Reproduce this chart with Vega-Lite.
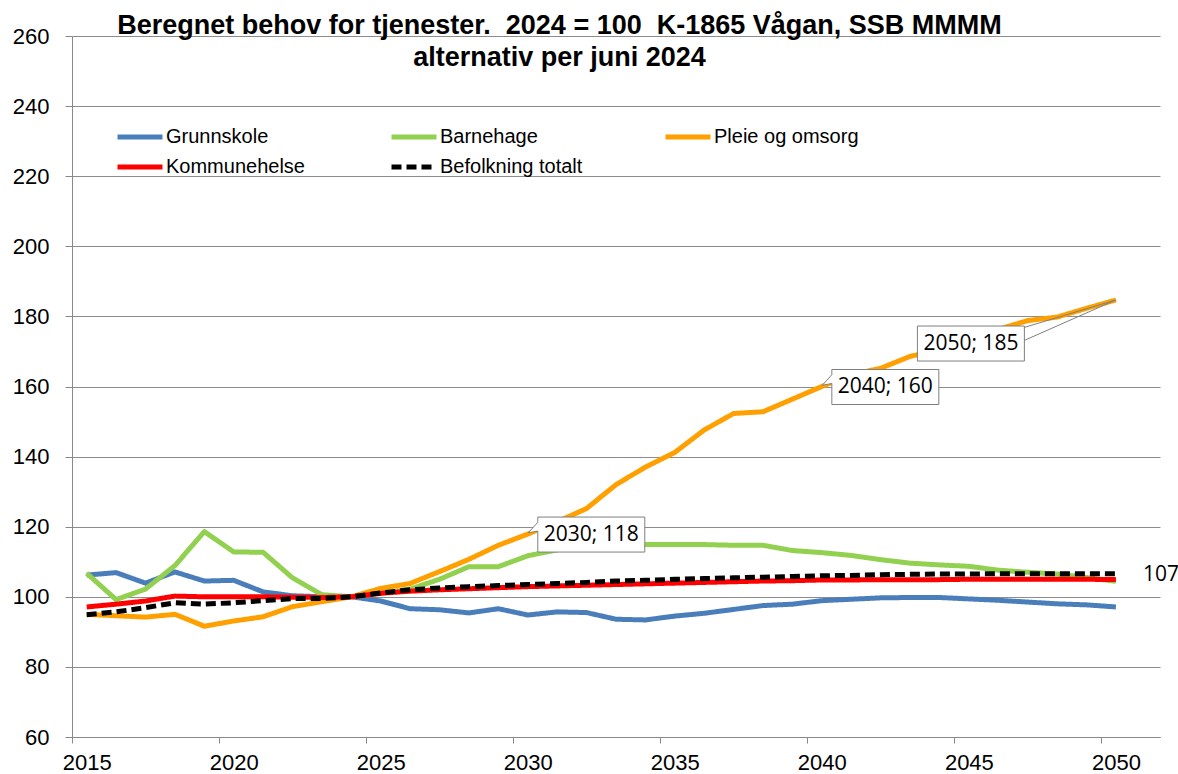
{
  "$schema": "https://vega.github.io/schema/vega-lite/v6.json",
  "width": 1088,
  "height": 701,
  "autosize": "none",
  "padding": {"left": 72, "top": 36, "right": 18, "bottom": 37},
  "background": "white",
  "config": {"view": {"stroke": null}},
  "title": {
    "text": ["Beregnet behov for tjenester.\u00a0 2024 = 100\u00a0 K-1865 Vågan, SSB MMMM", "alternativ per juni 2024"],
    "anchor": "middle",
    "frame": "group",
    "dx": -56.5,
    "dy": 36,
    "offset": -32,
    "baseline": "alphabetic",
    "fontSize": 27,
    "font": "Liberation Sans",
    "fontWeight": "bold",
    "color": "#000000",
    "lineHeight": 32
  },
  "datasets": {
    "series": [
      {"series": "Grunnskole", "year": 2015, "value": 106.2},
      {"series": "Grunnskole", "year": 2016, "value": 106.9},
      {"series": "Grunnskole", "year": 2017, "value": 103.9},
      {"series": "Grunnskole", "year": 2018, "value": 107.1},
      {"series": "Grunnskole", "year": 2019, "value": 104.5},
      {"series": "Grunnskole", "year": 2020, "value": 104.7},
      {"series": "Grunnskole", "year": 2021, "value": 101.4},
      {"series": "Grunnskole", "year": 2022, "value": 100.3},
      {"series": "Grunnskole", "year": 2023, "value": 100.0},
      {"series": "Grunnskole", "year": 2024, "value": 100.0},
      {"series": "Grunnskole", "year": 2025, "value": 98.8},
      {"series": "Grunnskole", "year": 2026, "value": 96.6},
      {"series": "Grunnskole", "year": 2027, "value": 96.3},
      {"series": "Grunnskole", "year": 2028, "value": 95.4},
      {"series": "Grunnskole", "year": 2029, "value": 96.6},
      {"series": "Grunnskole", "year": 2030, "value": 94.8},
      {"series": "Grunnskole", "year": 2031, "value": 95.7},
      {"series": "Grunnskole", "year": 2032, "value": 95.5},
      {"series": "Grunnskole", "year": 2033, "value": 93.6},
      {"series": "Grunnskole", "year": 2034, "value": 93.4},
      {"series": "Grunnskole", "year": 2035, "value": 94.5},
      {"series": "Grunnskole", "year": 2036, "value": 95.3},
      {"series": "Grunnskole", "year": 2037, "value": 96.4},
      {"series": "Grunnskole", "year": 2038, "value": 97.5},
      {"series": "Grunnskole", "year": 2039, "value": 97.9},
      {"series": "Grunnskole", "year": 2040, "value": 98.9},
      {"series": "Grunnskole", "year": 2041, "value": 99.3},
      {"series": "Grunnskole", "year": 2042, "value": 99.7},
      {"series": "Grunnskole", "year": 2043, "value": 99.8},
      {"series": "Grunnskole", "year": 2044, "value": 99.8},
      {"series": "Grunnskole", "year": 2045, "value": 99.4},
      {"series": "Grunnskole", "year": 2046, "value": 99.0},
      {"series": "Grunnskole", "year": 2047, "value": 98.5},
      {"series": "Grunnskole", "year": 2048, "value": 98.0},
      {"series": "Grunnskole", "year": 2049, "value": 97.7},
      {"series": "Grunnskole", "year": 2050, "value": 97.1},
      {"series": "Barnehage", "year": 2015, "value": 106.7},
      {"series": "Barnehage", "year": 2016, "value": 99.2},
      {"series": "Barnehage", "year": 2017, "value": 102.2},
      {"series": "Barnehage", "year": 2018, "value": 108.9},
      {"series": "Barnehage", "year": 2019, "value": 118.6},
      {"series": "Barnehage", "year": 2020, "value": 112.8},
      {"series": "Barnehage", "year": 2021, "value": 112.7},
      {"series": "Barnehage", "year": 2022, "value": 105.4},
      {"series": "Barnehage", "year": 2023, "value": 100.6},
      {"series": "Barnehage", "year": 2024, "value": 100.0},
      {"series": "Barnehage", "year": 2025, "value": 101.0},
      {"series": "Barnehage", "year": 2026, "value": 102.2},
      {"series": "Barnehage", "year": 2027, "value": 105.0},
      {"series": "Barnehage", "year": 2028, "value": 108.6},
      {"series": "Barnehage", "year": 2029, "value": 108.6},
      {"series": "Barnehage", "year": 2030, "value": 111.7},
      {"series": "Barnehage", "year": 2031, "value": 113.4},
      {"series": "Barnehage", "year": 2032, "value": 114.8},
      {"series": "Barnehage", "year": 2033, "value": 114.9},
      {"series": "Barnehage", "year": 2034, "value": 114.9},
      {"series": "Barnehage", "year": 2035, "value": 114.9},
      {"series": "Barnehage", "year": 2036, "value": 114.9},
      {"series": "Barnehage", "year": 2037, "value": 114.7},
      {"series": "Barnehage", "year": 2038, "value": 114.7},
      {"series": "Barnehage", "year": 2039, "value": 113.2},
      {"series": "Barnehage", "year": 2040, "value": 112.6},
      {"series": "Barnehage", "year": 2041, "value": 111.8},
      {"series": "Barnehage", "year": 2042, "value": 110.6},
      {"series": "Barnehage", "year": 2043, "value": 109.6},
      {"series": "Barnehage", "year": 2044, "value": 109.1},
      {"series": "Barnehage", "year": 2045, "value": 108.7},
      {"series": "Barnehage", "year": 2046, "value": 107.6},
      {"series": "Barnehage", "year": 2047, "value": 107.0},
      {"series": "Barnehage", "year": 2048, "value": 106.5},
      {"series": "Barnehage", "year": 2049, "value": 105.5},
      {"series": "Barnehage", "year": 2050, "value": 104.4},
      {"series": "Pleie og omsorg", "year": 2015, "value": 95.0},
      {"series": "Pleie og omsorg", "year": 2016, "value": 94.6},
      {"series": "Pleie og omsorg", "year": 2017, "value": 94.2},
      {"series": "Pleie og omsorg", "year": 2018, "value": 95.0},
      {"series": "Pleie og omsorg", "year": 2019, "value": 91.6},
      {"series": "Pleie og omsorg", "year": 2020, "value": 93.1},
      {"series": "Pleie og omsorg", "year": 2021, "value": 94.3},
      {"series": "Pleie og omsorg", "year": 2022, "value": 97.2},
      {"series": "Pleie og omsorg", "year": 2023, "value": 98.6},
      {"series": "Pleie og omsorg", "year": 2024, "value": 100.0},
      {"series": "Pleie og omsorg", "year": 2025, "value": 102.4},
      {"series": "Pleie og omsorg", "year": 2026, "value": 103.8},
      {"series": "Pleie og omsorg", "year": 2027, "value": 107.2},
      {"series": "Pleie og omsorg", "year": 2028, "value": 110.7},
      {"series": "Pleie og omsorg", "year": 2029, "value": 114.7},
      {"series": "Pleie og omsorg", "year": 2030, "value": 117.9},
      {"series": "Pleie og omsorg", "year": 2031, "value": 121.4},
      {"series": "Pleie og omsorg", "year": 2032, "value": 125.2},
      {"series": "Pleie og omsorg", "year": 2033, "value": 132.0},
      {"series": "Pleie og omsorg", "year": 2034, "value": 137.0},
      {"series": "Pleie og omsorg", "year": 2035, "value": 141.2},
      {"series": "Pleie og omsorg", "year": 2036, "value": 147.6},
      {"series": "Pleie og omsorg", "year": 2037, "value": 152.3},
      {"series": "Pleie og omsorg", "year": 2038, "value": 152.8},
      {"series": "Pleie og omsorg", "year": 2039, "value": 156.4},
      {"series": "Pleie og omsorg", "year": 2040, "value": 160.0},
      {"series": "Pleie og omsorg", "year": 2041, "value": 163.4},
      {"series": "Pleie og omsorg", "year": 2042, "value": 165.2},
      {"series": "Pleie og omsorg", "year": 2043, "value": 168.6},
      {"series": "Pleie og omsorg", "year": 2044, "value": 170.4},
      {"series": "Pleie og omsorg", "year": 2045, "value": 173.6},
      {"series": "Pleie og omsorg", "year": 2046, "value": 176.3},
      {"series": "Pleie og omsorg", "year": 2047, "value": 178.8},
      {"series": "Pleie og omsorg", "year": 2048, "value": 179.8},
      {"series": "Pleie og omsorg", "year": 2049, "value": 182.3},
      {"series": "Pleie og omsorg", "year": 2050, "value": 184.7},
      {"series": "Kommunehelse", "year": 2015, "value": 97.1},
      {"series": "Kommunehelse", "year": 2016, "value": 97.9},
      {"series": "Kommunehelse", "year": 2017, "value": 98.8},
      {"series": "Kommunehelse", "year": 2018, "value": 100.2},
      {"series": "Kommunehelse", "year": 2019, "value": 100.0},
      {"series": "Kommunehelse", "year": 2020, "value": 100.0},
      {"series": "Kommunehelse", "year": 2021, "value": 100.0},
      {"series": "Kommunehelse", "year": 2022, "value": 99.9},
      {"series": "Kommunehelse", "year": 2023, "value": 99.8},
      {"series": "Kommunehelse", "year": 2024, "value": 100.0},
      {"series": "Kommunehelse", "year": 2025, "value": 101.0},
      {"series": "Kommunehelse", "year": 2026, "value": 101.6},
      {"series": "Kommunehelse", "year": 2027, "value": 102.0},
      {"series": "Kommunehelse", "year": 2028, "value": 102.3},
      {"series": "Kommunehelse", "year": 2029, "value": 102.6},
      {"series": "Kommunehelse", "year": 2030, "value": 102.9},
      {"series": "Kommunehelse", "year": 2031, "value": 103.1},
      {"series": "Kommunehelse", "year": 2032, "value": 103.3},
      {"series": "Kommunehelse", "year": 2033, "value": 103.5},
      {"series": "Kommunehelse", "year": 2034, "value": 103.7},
      {"series": "Kommunehelse", "year": 2035, "value": 103.9},
      {"series": "Kommunehelse", "year": 2036, "value": 104.1},
      {"series": "Kommunehelse", "year": 2037, "value": 104.3},
      {"series": "Kommunehelse", "year": 2038, "value": 104.5},
      {"series": "Kommunehelse", "year": 2039, "value": 104.6},
      {"series": "Kommunehelse", "year": 2040, "value": 104.8},
      {"series": "Kommunehelse", "year": 2041, "value": 104.8},
      {"series": "Kommunehelse", "year": 2042, "value": 104.9},
      {"series": "Kommunehelse", "year": 2043, "value": 104.9},
      {"series": "Kommunehelse", "year": 2044, "value": 104.9},
      {"series": "Kommunehelse", "year": 2045, "value": 105.0},
      {"series": "Kommunehelse", "year": 2046, "value": 105.0},
      {"series": "Kommunehelse", "year": 2047, "value": 105.0},
      {"series": "Kommunehelse", "year": 2048, "value": 105.0},
      {"series": "Kommunehelse", "year": 2049, "value": 105.0},
      {"series": "Kommunehelse", "year": 2050, "value": 104.9},
      {"series": "Befolkning totalt", "year": 2015, "value": 94.9},
      {"series": "Befolkning totalt", "year": 2016, "value": 95.7},
      {"series": "Befolkning totalt", "year": 2017, "value": 96.9},
      {"series": "Befolkning totalt", "year": 2018, "value": 98.3},
      {"series": "Befolkning totalt", "year": 2019, "value": 97.9},
      {"series": "Befolkning totalt", "year": 2020, "value": 98.3},
      {"series": "Befolkning totalt", "year": 2021, "value": 98.9},
      {"series": "Befolkning totalt", "year": 2022, "value": 99.5},
      {"series": "Befolkning totalt", "year": 2023, "value": 99.5},
      {"series": "Befolkning totalt", "year": 2024, "value": 100.0},
      {"series": "Befolkning totalt", "year": 2025, "value": 101.1},
      {"series": "Befolkning totalt", "year": 2026, "value": 102.0},
      {"series": "Befolkning totalt", "year": 2027, "value": 102.5},
      {"series": "Befolkning totalt", "year": 2028, "value": 102.9},
      {"series": "Befolkning totalt", "year": 2029, "value": 103.2},
      {"series": "Befolkning totalt", "year": 2030, "value": 103.5},
      {"series": "Befolkning totalt", "year": 2031, "value": 103.8},
      {"series": "Befolkning totalt", "year": 2032, "value": 104.1},
      {"series": "Befolkning totalt", "year": 2033, "value": 104.5},
      {"series": "Befolkning totalt", "year": 2034, "value": 104.7},
      {"series": "Befolkning totalt", "year": 2035, "value": 105.0},
      {"series": "Befolkning totalt", "year": 2036, "value": 105.2},
      {"series": "Befolkning totalt", "year": 2037, "value": 105.4},
      {"series": "Befolkning totalt", "year": 2038, "value": 105.6},
      {"series": "Befolkning totalt", "year": 2039, "value": 105.8},
      {"series": "Befolkning totalt", "year": 2040, "value": 106.0},
      {"series": "Befolkning totalt", "year": 2041, "value": 106.1},
      {"series": "Befolkning totalt", "year": 2042, "value": 106.3},
      {"series": "Befolkning totalt", "year": 2043, "value": 106.4},
      {"series": "Befolkning totalt", "year": 2044, "value": 106.5},
      {"series": "Befolkning totalt", "year": 2045, "value": 106.5},
      {"series": "Befolkning totalt", "year": 2046, "value": 106.6},
      {"series": "Befolkning totalt", "year": 2047, "value": 106.6},
      {"series": "Befolkning totalt", "year": 2048, "value": 106.6},
      {"series": "Befolkning totalt", "year": 2049, "value": 106.6},
      {"series": "Befolkning totalt", "year": 2050, "value": 106.6}
    ],
    "ann": [
      {"series": "Pleie og omsorg", "year": 2030, "value": 117.9, "label": "2030; 118"},
      {"series": "Pleie og omsorg", "year": 2040, "value": 160.0, "label": "2040; 160"},
      {"series": "Pleie og omsorg", "year": 2050, "value": 184.7, "label": "2050; 185"},
      {"series": "Befolkning totalt", "year": 2050, "value": 106.6, "label": "107"}
    ]
  },
  "layer": [
    {
      "data": {"name": "series"},
      "mark": {"type": "line", "strokeCap": "butt", "strokeJoin": "round"},
      "encoding": {
        "x": {
          "field": "year", "type": "quantitative",
          "scale": {"domain": [2014.5, 2051.5], "nice": false, "zero": false},
          "axis": {
            "values": [2014.5, 2015, 2019.5, 2020, 2024.5, 2025, 2029.5, 2030, 2034.5, 2035, 2039.5, 2040, 2044.5, 2045, 2049.5, 2050],
            "format": "d",
            "labelExpr": "datum.value % 1 === 0 ? datum.label : ''",
            "title": null, "grid": false,
            "tickSize": 6, "tickColor": "#898989",
            "tickOpacity": {"condition": {"test": "datum.value % 1 === 0", "value": 0}, "value": 1},
            "domainColor": "#898989",
            "labelFontSize": 22, "labelFont": "Liberation Sans", "labelColor": "#000000",
            "labelPadding": 9, "labelFlush": false, "labelOverlap": false
          }
        },
        "y": {
          "field": "value", "type": "quantitative",
          "scale": {"domain": [60, 260], "nice": false, "zero": false},
          "axis": {
            "values": [60, 80, 100, 120, 140, 160, 180, 200, 220, 240, 260],
            "title": null, "grid": true, "gridColor": "#8c8c8c", "gridWidth": 1,
            "tickSize": 7, "tickColor": "#898989", "domainColor": "#898989",
            "labelFontSize": 22, "labelFont": "Liberation Sans", "labelColor": "#000000",
            "labelPadding": 16
          }
        },
        "color": {
          "field": "series", "type": "nominal",
          "scale": {"domain": ["Grunnskole", "Barnehage", "Pleie og omsorg", "Kommunehelse", "Befolkning totalt"],
                    "range": ["#4a7ebb", "#92d050", "#ffa000", "#ff0000", "#000000"]},
          "legend": {"orient": "none", "legendX": 43, "legendY": 86, "columns": 3, "direction": "horizontal", "title": null,
                     "symbolType": "stroke", "symbolSize": 2025, "labelFontSize": 20, "labelFont": "Liberation Sans",
                     "labelColor": "#000000", "labelOffset": 1, "columnPadding": 78, "rowPadding": 0, "clipHeight": 30, "gridAlign": "all"}
        },
        "strokeDash": {
          "field": "series", "type": "nominal",
          "scale": {"domain": ["Grunnskole", "Barnehage", "Pleie og omsorg", "Kommunehelse", "Befolkning totalt"],
                    "range": [[1, 0], [1, 0], [1, 0], [1, 0], [10, 5]]},
          "legend": {"orient": "none", "legendX": 43, "legendY": 86, "columns": 3, "direction": "horizontal", "title": null,
                     "symbolType": "stroke", "symbolSize": 2025, "labelFontSize": 20, "labelFont": "Liberation Sans",
                     "labelColor": "#000000", "labelOffset": 1, "columnPadding": 78, "rowPadding": 0, "clipHeight": 30, "gridAlign": "all"}
        },
        "strokeWidth": {
          "field": "series", "type": "nominal",
          "scale": {"domain": ["Grunnskole", "Barnehage", "Pleie og omsorg", "Kommunehelse", "Befolkning totalt"],
                    "range": [5, 5, 5, 6.5, 3.5]},
          "legend": {"orient": "none", "legendX": 43, "legendY": 86, "columns": 3, "direction": "horizontal", "title": null,
                     "symbolType": "stroke", "symbolSize": 2025, "labelFontSize": 20, "labelFont": "Liberation Sans",
                     "labelColor": "#000000", "labelOffset": 1, "columnPadding": 78, "rowPadding": 0, "clipHeight": 30, "gridAlign": "all"}
        }
      }
    },
    {
      "data": {"name": "ann"},
      "transform": [{"filter": "datum.series === 'Pleie og omsorg' && datum.year === 2050"}],
      "mark": {"type": "rule", "stroke": "#7f7f7f", "strokeWidth": 1, "x2Offset": -91.6, "y2Offset": 27.5},
      "encoding": {
        "x": {"field": "year", "type": "quantitative"},
        "y": {"field": "value", "type": "quantitative"},
        "x2": {"field": "year"},
        "y2": {"field": "value"}
      }
    },
    {
      "data": {"name": "ann"},
      "transform": [{"filter": "datum.series === 'Pleie og omsorg' && datum.year === 2050"}],
      "mark": {"type": "rule", "stroke": "#7f7f7f", "strokeWidth": 1, "x2Offset": -91.6, "y2Offset": 40.5},
      "encoding": {
        "x": {"field": "year", "type": "quantitative"},
        "y": {"field": "value", "type": "quantitative"},
        "x2": {"field": "year"},
        "y2": {"field": "value"}
      }
    },
    {
      "data": {"name": "ann"},
      "transform": [{"filter": "datum.series === 'Pleie og omsorg' && datum.year < 2050"}],
      "mark": {"type": "point", "shape": "M-3.057,-1H3.057V1H-3.057V-0.2L-3.6,-0.1L-3.057,-0.7Z", "size": 1225,
               "filled": true, "fill": "#ffffff", "stroke": "#7f7f7f", "strokeWidth": 1, "opacity": 1,
               "xOffset": 63.5, "yOffset": 0.5},
      "encoding": {
        "x": {"field": "year", "type": "quantitative"},
        "y": {"field": "value", "type": "quantitative"}
      }
    },
    {
      "data": {"name": "ann"},
      "transform": [{"filter": "datum.series === 'Pleie og omsorg' && datum.year === 2050"}],
      "mark": {"type": "point", "shape": "M-3.057,-1H3.057V1H-3.057Z", "size": 1225,
               "filled": true, "fill": "#ffffff", "stroke": "#7f7f7f", "strokeWidth": 1, "opacity": 1,
               "xOffset": -145, "yOffset": 43.6},
      "encoding": {
        "x": {"field": "year", "type": "quantitative"},
        "y": {"field": "value", "type": "quantitative"}
      }
    },
    {
      "data": {"name": "ann"},
      "transform": [{"filter": "datum.series === 'Pleie og omsorg' && datum.year < 2050"}],
      "mark": {"type": "text", "font": "Open Sans", "fontSize": 21, "color": "#000000", "align": "center", "baseline": "middle",
               "xOffset": 63.5, "yOffset": 0.5},
      "encoding": {
        "x": {"field": "year", "type": "quantitative"},
        "y": {"field": "value", "type": "quantitative"},
        "text": {"field": "label"}
      }
    },
    {
      "data": {"name": "ann"},
      "transform": [{"filter": "datum.series === 'Pleie og omsorg' && datum.year === 2050"}],
      "mark": {"type": "text", "font": "Open Sans", "fontSize": 21, "color": "#000000", "align": "center", "baseline": "middle",
               "xOffset": -145, "yOffset": 43.6},
      "encoding": {
        "x": {"field": "year", "type": "quantitative"},
        "y": {"field": "value", "type": "quantitative"},
        "text": {"field": "label"}
      }
    },
    {
      "data": {"name": "ann"},
      "transform": [{"filter": "datum.series === 'Befolkning totalt'"}],
      "mark": {"type": "text", "font": "Open Sans", "fontSize": 21, "color": "#000000", "align": "left", "baseline": "middle",
               "xOffset": 27, "yOffset": 1},
      "encoding": {
        "x": {"field": "year", "type": "quantitative"},
        "y": {"field": "value", "type": "quantitative"},
        "text": {"field": "label"}
      }
    }
  ]
}
